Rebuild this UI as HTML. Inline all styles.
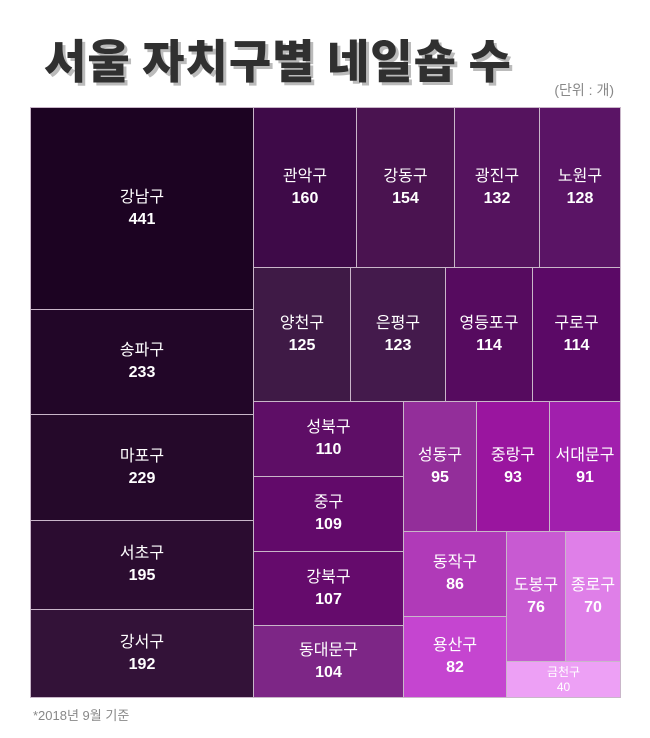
<!DOCTYPE html><html><head><meta charset="utf-8"><style>
body{margin:0;width:650px;height:738px;background:#fff;font-family:"Liberation Sans","Noto Sans CJK KR",sans-serif;position:relative;overflow:hidden}
.t{position:absolute;left:44px;top:26px;font-size:46px;font-weight:900;color:#303030;letter-spacing:1px;text-shadow:3px 3px 0 #bbb;font-family:"Noto Sans CJK KR",sans-serif}
.u{position:absolute;right:36px;top:80px;font-size:14px;color:#888}
.f{position:absolute;left:33px;top:705px;font-size:13px;color:#888}
.c{position:absolute;box-sizing:border-box;border:1px solid #c9b6c9;color:#fff;display:flex;flex-direction:column;align-items:center;justify-content:center;font-size:16px;line-height:22px;text-align:center}
.c b{font-size:16px}
</style></head><body>
<div class="t">서울 자치구별 네일숍 수</div>
<div class="u">(단위 : 개)</div>
<div id="m"></div>
<div class="f">*2018년 9월 기준</div>
<script>
var d=[
[30,107,253,309,'#1c0322','강남구',441],[30,309,253,414,'#220628','송파구',233],[30,414,253,520,'#25092a','마포구',229],[30,520,253,609,'#2b0c30','서초구',195],[30,609,253,697,'#331238','강서구',192],
[253,107,356,267,'#3e0a48','관악구',160],[356,107,454,267,'#4a1350','강동구',154],[454,107,539,267,'#55135e','광진구',132],[539,107,620,267,'#5a1465','노원구',128],
[253,267,350,401,'#3f1a46','양천구',125],[350,267,445,401,'#441a4c','은평구',123],[445,267,532,401,'#560b5f','영등포구',114],[532,267,620,401,'#5b0966','구로구',114],
[253,401,403,476,'#5e0e66','성북구',110],[253,476,403,551,'#620a6a','중구',109],[253,551,403,625,'#650b6c','강북구',107],[253,625,403,697,'#7d2686','동대문구',104],
[403,401,476,531,'#932e9a','성동구',95],[476,401,549,531,'#9a159f','중랑구',93],[549,401,620,531,'#a11fad','서대문구',91],
[403,531,506,616,'#b03ab8','동작구',86],[403,616,506,697,'#c545d0','용산구',82],[506,531,565,661,'#c85ad2','도봉구',76],[565,531,620,661,'#df7fe8','종로구',70]];
var h='';d.forEach(function(a){h+='<div class="c" style="left:'+a[0]+'px;top:'+a[1]+'px;width:'+(a[2]-a[0]+1)+'px;height:'+(a[3]-a[1]+1)+'px;background:'+a[4]+'"><span>'+a[5]+'</span><b>'+a[6]+'</b></div>'});
h+='<div class="c" style="left:506px;top:661px;width:115px;height:37px;background:#eda0f5;font-size:12px;line-height:15px"><span>금천구</span><span>40</span></div>';
document.getElementById('m').innerHTML=h;
</script>
</body></html>
